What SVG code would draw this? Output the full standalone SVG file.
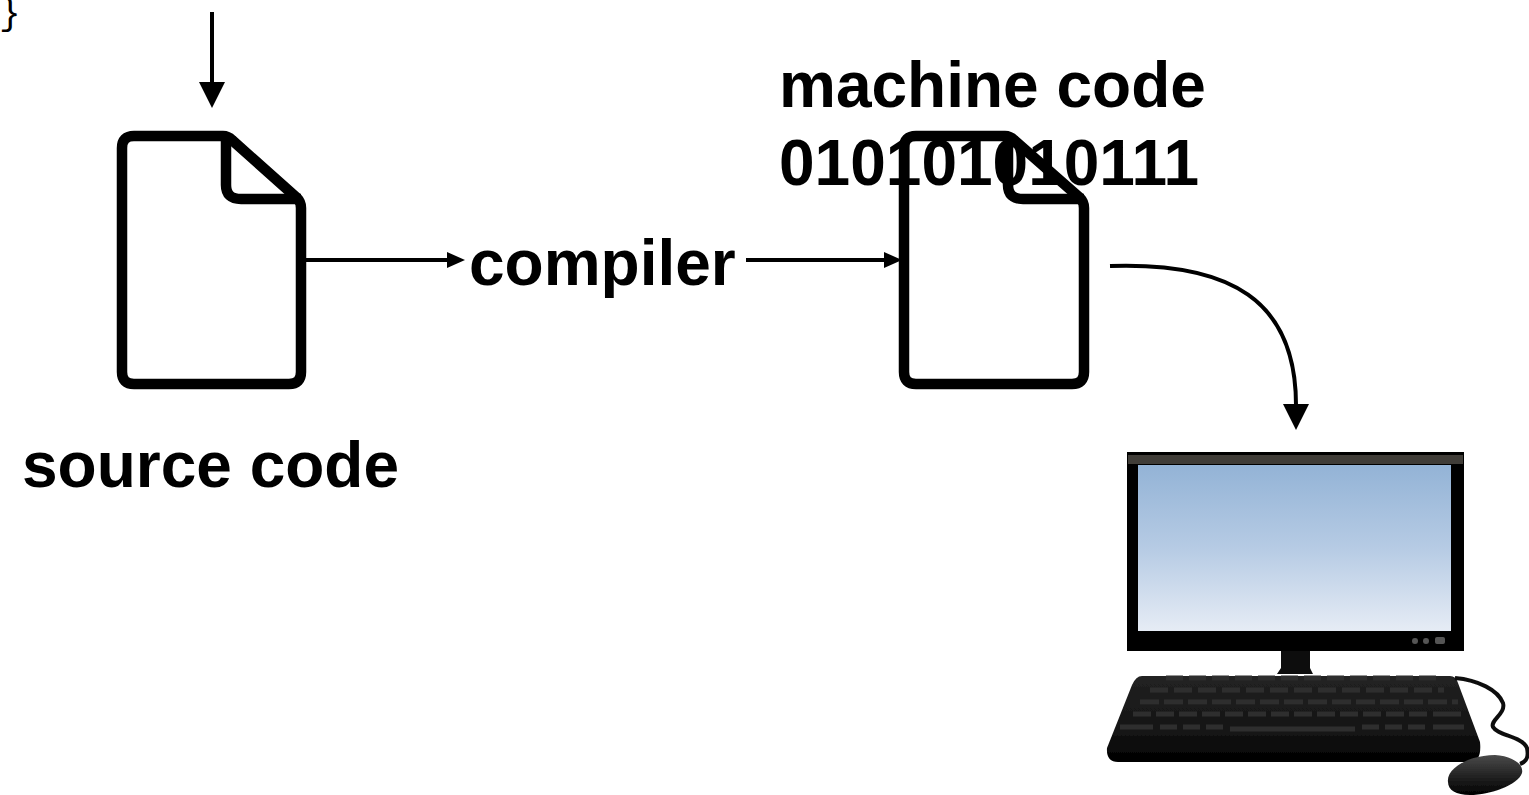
<svg xmlns="http://www.w3.org/2000/svg" width="1529" height="795" viewBox="0 0 1529 795">
<style>
text{font-family:"Liberation Sans",Arial,sans-serif;font-weight:700;font-size:64px;fill:#000}
.mono{font-family:"Liberation Mono","DejaVu Sans Mono",monospace;font-weight:400;font-size:36px}
.doc{fill:none;stroke:#000;stroke-width:10.5;stroke-linejoin:round}
.conn{fill:none;stroke:#000;stroke-width:4}
.key{fill:none;stroke:#2e2e2e;stroke-width:5}
</style>
<defs>
<marker id="a" markerUnits="userSpaceOnUse" markerWidth="20" markerHeight="20" refX="1" refY="8" orient="auto"><path d="M0 0L18 8L0 16Z" fill="#000"/></marker>
<marker id="b" markerUnits="userSpaceOnUse" markerWidth="30" markerHeight="30" refX="1" refY="13" orient="auto"><path d="M0 0L26 13L0 26Z" fill="#000"/></marker>
<linearGradient id="scr" x1="0" y1="0" x2="0" y2="1"><stop offset="0" stop-color="#93b3d6"/><stop offset=".5" stop-color="#b6cbe4"/><stop offset="1" stop-color="#e6ecf5"/></linearGradient>
<linearGradient id="kb" x1="0" y1="0" x2="0" y2="1"><stop offset="0" stop-color="#222"/><stop offset=".65" stop-color="#141414"/><stop offset="1" stop-color="#000"/></linearGradient>
<linearGradient id="ms" x1="0" y1="0" x2="0" y2="1"><stop offset="0" stop-color="#4a4a4a"/><stop offset="1" stop-color="#000"/></linearGradient>
<filter id="soft" x="-5%" y="-5%" width="110%" height="110%"><feGaussianBlur stdDeviation="0.7"/></filter>
<filter id="soft2" x="-5%" y="-5%" width="110%" height="110%"><feGaussianBlur stdDeviation="0.6"/></filter>
</defs>
<rect width="1529" height="795" fill="#fff"/>
<text class="mono" x="-1" y="24">}</text>
<g id="source-doc" filter="url(#soft2)">
<path class="doc" d="M134 136H223Q228 136 232 140L297 198Q301 202 301 208V372Q301 384 289 384H134Q122 384 122 372V148Q122 136 134 136Z"/>
<path class="doc" d="M226 136V185Q226 199 241 199H301"/>
</g>
<g id="source-label"><text x="22" y="487">source code</text></g>
<g id="compiler"><text x="469" y="285">compiler</text></g>
<g id="machine-doc" filter="url(#soft2)">
<path class="doc" d="M916 136H1005Q1010 136 1014 140L1080 198Q1084 202 1084 208V372Q1084 384 1072 384H916Q904 384 904 372V148Q904 136 916 136Z"/>
<path class="doc" d="M1008 136V185Q1008 199 1023 199H1084"/>
</g>
<g id="machine-label"><text x="779" y="107">machine code</text><text x="779" y="185">010101010111</text></g>
<g id="connectors">
<line class="conn" x1="212" y1="12" x2="212" y2="83" marker-end="url(#b)"/>
<line class="conn" x1="306" y1="260" x2="448" y2="260" marker-end="url(#a)"/>
<line class="conn" x1="746" y1="260" x2="885" y2="260" marker-end="url(#a)"/>
<path class="conn" d="M1110 266C1230 262 1296 300 1296 405" marker-end="url(#b)"/>
</g>
<g id="computer" filter="url(#soft)">
<rect x="1127" y="452" width="337" height="199" fill="#060606"/>
<rect x="1128" y="455" width="335" height="9" fill="#3f3c38"/>
<rect x="1138" y="465" width="313" height="166" fill="url(#scr)"/>
<g fill="#555"><circle cx="1415" cy="641" r="3"/><circle cx="1426" cy="641" r="3"/><rect x="1435" y="637" width="10" height="7" rx="2"/></g>
<path d="M1281 651H1310V668L1313 674H1277L1281 668Z" fill="#0a0a0a"/>
<path d="M1142 676H1450Q1456 676 1458 683L1480 742Q1482 762 1470 762H1118Q1106 762 1107 748L1132 685Q1136 676 1142 676Z" fill="url(#kb)"/>
<line class="key" x1="1166" y1="678" x2="1440" y2="678" stroke-dasharray="17 6"/>
<line class="key" x1="1150" y1="690" x2="1444" y2="690" stroke-dasharray="18 6"/>
<line class="key" x1="1140" y1="702" x2="1458" y2="702" stroke-dasharray="19 5"/>
<line class="key" x1="1133" y1="714" x2="1430" y2="714" stroke-dasharray="18 5"/>
<line class="key" x1="1433" y1="714" x2="1461" y2="714"/>
<line class="key" x1="1120" y1="727" x2="1153" y2="727"/>
<line class="key" x1="1160" y1="727" x2="1227" y2="727" stroke-dasharray="17 6"/>
<line class="key" x1="1230" y1="729" x2="1355" y2="729" stroke-width="7"/>
<line class="key" x1="1362" y1="727" x2="1428" y2="727" stroke-dasharray="17 6"/>
<line class="key" x1="1433" y1="727" x2="1464" y2="727"/>
<path d="M1455 678C1478 680 1498 690 1503 703C1506 714 1490 720 1493 727C1498 736 1522 736 1527 748C1529 758 1526 762 1520 764" fill="none" stroke="#111" stroke-width="4"/>
<path d="M1448 782C1446 768 1470 755 1495 755C1512 756 1524 764 1522 773C1518 785 1490 795 1470 795C1456 795 1448 790 1448 782Z" fill="url(#ms)"/>
</g>
</svg>
